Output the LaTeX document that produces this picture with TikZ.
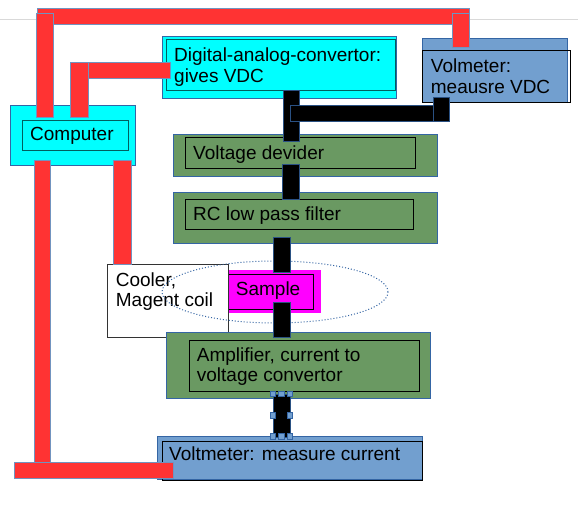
\documentclass[tikz,border=0pt]{standalone}
\usepackage{fontspec}
\setmainfont{Liberation Sans}
\usetikzlibrary{fit}
\definecolor{cyanc}{HTML}{00FFFF}
\definecolor{bluec}{HTML}{729FCF}
\definecolor{greenc}{RGB}{106,153,98}
\definecolor{redc}{HTML}{FF3333}
\definecolor{magc}{HTML}{FF00FF}
\definecolor{edgeblue}{HTML}{3465A4}
\definecolor{tealedge}{HTML}{005F5F}
\begin{document}
\begin{tikzpicture}[x=1pt,y=-1pt,
  outerbox/.style={rectangle, inner sep=0pt, draw=edgeblue, line width=1pt},
  innerbox/.style={rectangle, inner sep=0pt, draw=black, line width=1pt},
  lbl/.style={anchor=base west, inner sep=0pt, font=\fontsize{19}{20.6}\selectfont, align=left},
  redbar/.style={fill=redc, draw=edgeblue!70, line width=0.8pt},
  blackbar/.style={fill=black, draw=edgeblue!80!black, line width=0.8pt},
  handle/.style={rectangle, fill=bluec, draw=edgeblue, line width=0.6pt, minimum size=5.5pt, inner sep=0pt}]
\useasboundingbox[fill=white] (0,0) rectangle (578,527);
\draw[gray!30, line width=1pt] (0,19.5) -- (578,19.5);

% Computer
\node[outerbox, fill=cyanc, fit={(10,105)(135,165)}] (compo) {};
\node[innerbox, draw=tealedge, fit={(22,120)(128,150)}] (compi) {};
\node[lbl] (tcomp) at (30,140.5) {Computer};

% DAC
\node[outerbox, fill=cyanc, fit={(162,37)(396,98)}] (daco) {};
\node[innerbox, draw=tealedge, fit={(166,39.5)(395.5,90.5)}] (daci) {};
\node[lbl] (tdac) at (174,82.3) {Digital-analog-convertor:\\gives VDC};

% Volmeter VDC
\node[outerbox, fill=bluec, fit={(422,39)(567,102)}] (vmo) {};
\node[innerbox, fit={(422.5,51)(570,102.3)}] (vmi) {};
\node[lbl] (tvm) at (430.7,93.3) {Volmeter:\\meausre VDC};

% Voltage devider
\node[outerbox, fill=greenc, fit={(173,134)(437.5,176)}] (vdo) {};
\node[innerbox, fit={(185.5,137.5)(415,168.5)}] (vdi) {};
\node[lbl] (tvd) at (193,159.3) {Voltage devider};

% RC filter
\node[outerbox, fill=greenc, fit={(173,192.5)(437.5,243)}] (rco) {};
\node[innerbox, fit={(185.5,199)(413.5,229.5)}] (rci) {};
\node[lbl] (trc) at (193,220) {RC low pass filter};

% Sample
\node[rectangle, inner sep=0pt, fill=magc, fit={(226,269.5)(321,312.5)}] (samo) {};
\node[innerbox, fit={(228,274)(313.5,309.5)}] (sami) {};
\node[lbl] (tsam) at (235.7,295) {Sample};

% Cooler
\node[rectangle, inner sep=0pt, fill=white, draw=black!80, line width=1pt, fit={(107.5,264)(228.5,337.3)}] (cool) {};
\node[lbl] (tcool) at (115.7,306.7) {Cooler,\\Magent coil};

% dotted ellipse (magnet region)
\draw[edgeblue, dotted, line width=1pt] (275,292) ellipse [x radius=113pt, y radius=31pt];

% Amplifier
\node[outerbox, fill=greenc, fit={(166,332)(430,398)}] (ampo) {};
\node[innerbox, fit={(189,340)(419,391)}] (ampi) {};
\node[lbl] (tamp) at (196.7,381.7) {Amplifier, current to\\voltage convertor};

% Voltmeter current
\node[outerbox, fill=bluec, fit={(157.5,436.5)(422,479)}] (vco) {};
\node[innerbox, fit={(162.3,441.5)(422.3,480)}] (vci) {};
\node[lbl] (tvc) at (169,460.7) {Voltmeter: measure current};

% red cables
\path[redbar] (37,8) rectangle (469,24);
\path[redbar] (36,13) rectangle (53,117);
\path[redbar] (452,13) rectangle (469,47);
\path[redbar] (88,62) rectangle (170,78);
\path[redbar] (70,62) rectangle (88,117);
\path[redbar] (113,160) rectangle (131,264);
\path[redbar] (34,160) rectangle (50.5,467);
\path[redbar] (14,462) rectangle (173,478);

% black cables
\path[blackbar] (283,90) rectangle (299,141);
\path[blackbar] (290,105) rectangle (449,121);
\path[blackbar] (433,97) rectangle (449,121);
\path[blackbar] (282.5,164) rectangle (299,199);
\path[blackbar] (273,237.5) rectangle (290.5,272);
\path[blackbar] (273,302) rectangle (290.5,337);
\path[blackbar] (273,394) rectangle (290,437);

% selection handles
\foreach \hx/\hy [count=\i] in {273/394, 281.5/394, 290/394, 273/415.5, 290/415.5, 273/436.5, 281.5/436.5, 290/436.5}
  \node[handle] (h\i) at (\hx,\hy) {};
\end{tikzpicture}
\end{document}
